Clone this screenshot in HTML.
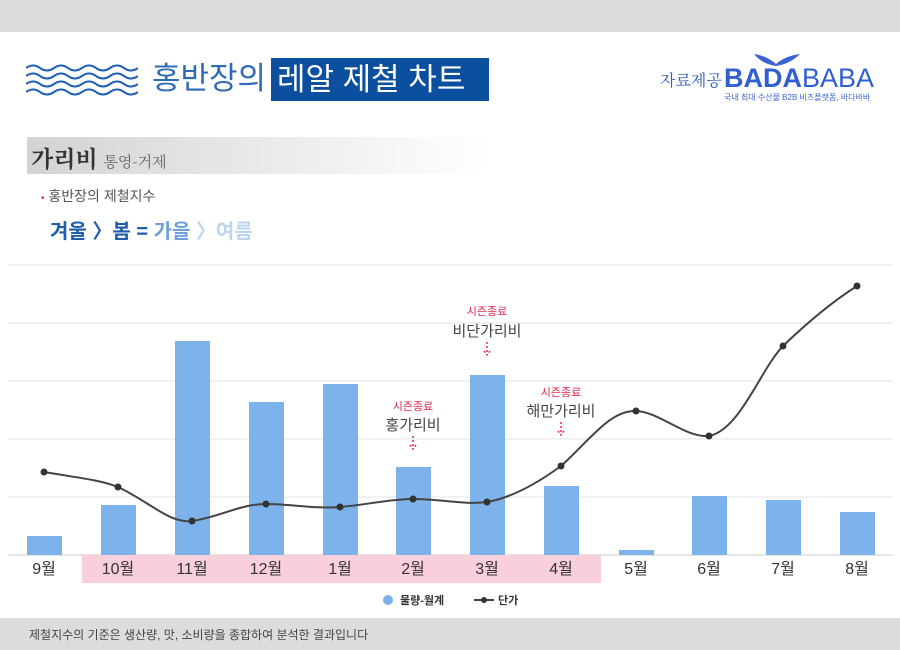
<!DOCTYPE html>
<html><head><meta charset="utf-8"><style>
body{margin:0;width:900px;height:650px;position:relative;background:#fff;font-family:"Liberation Sans","Noto Sans CJK KR",sans-serif;overflow:hidden}
.a{position:absolute;white-space:nowrap}
</style></head><body>
<div class="a" style="left:0;top:0;width:900px;height:32px;background:#dcdcdc"></div>
<svg class="a" style="left:26px;top:64px" width="112" height="32" viewBox="0 0 112 32">
<g fill="none" stroke="#1f5fb4" stroke-width="2">
<path d="M0,4 q7,-5 14,0 t14,0 t14,0 t14,0 t14,0 t14,0 t14,0 t14,0"/>
<path d="M0,12 q7,-5 14,0 t14,0 t14,0 t14,0 t14,0 t14,0 t14,0 t14,0"/>
<path d="M0,20 q7,-5 14,0 t14,0 t14,0 t14,0 t14,0 t14,0 t14,0 t14,0"/>
<path d="M0,28 q7,-5 14,0 t14,0 t14,0 t14,0 t14,0 t14,0 t14,0 t14,0"/>
</g></svg>
<div class="a" style="left:152px;top:58px;font-size:31px;color:#2d6ab8;line-height:42px">홍반장의</div>
<div class="a" style="left:271px;top:58px;width:218px;height:43px;background:#0b4f9e;color:#fff;font-size:31px;line-height:43px;padding-left:6px;box-sizing:border-box">레알 제철 차트</div>
<div class="a" style="left:660px;top:68px;font-size:16px;color:#2f5fb8;font-family:'Noto Serif CJK SC',serif">자료제공</div>
<svg class="a" style="left:752px;top:52px" width="50" height="14"><path d="M2,2 Q15,4 24,12 Q33,4 48,2 Q38,12 24,14 Q10,12 2,2Z" fill="#3d63d0"/></svg>
<div class="a" style="left:724px;top:63px;font-size:27px;color:#2f5fd0;font-weight:bold;letter-spacing:0">BADA<span style="font-weight:normal">BABA</span></div>
<div class="a" style="left:724px;top:92px;font-size:8px;color:#3d63d0">국내 최대 수산물 B2B 비즈플랫폼, 바다바바</div>
<div class="a" style="left:27px;top:137px;width:460px;height:37px;background:linear-gradient(90deg,#d3d3d3,#f2f2f2 70%,#fff)"></div>
<div class="a" style="left:31px;top:141px;font-size:23px;font-weight:bold;color:#333;font-family:'Noto Serif CJK SC',serif">가리비 <span style="font-size:15px;font-weight:normal;color:#666">통영-거제</span></div>
<div class="a" style="left:41px;top:186px;font-size:14px;color:#555"><span style="color:#e0284f;font-size:10px">•</span> 홍반장의 제철지수</div>
<div class="a" style="left:50px;top:215px;font-size:20px;font-weight:bold;color:#1e5eaa">겨울 〉봄 = <span style="color:#6ea1d9">가을</span> <span style="color:#bcd5ee">〉여름</span></div>
<svg class="a" style="left:0;top:250px" width="900" height="370">
<g stroke="#e3e3e3"><line x1="8" x2="893" y1="15" y2="15"/><line x1="8" x2="893" y1="73" y2="73"/><line x1="8" x2="893" y1="131" y2="131"/><line x1="8" x2="893" y1="189" y2="189"/><line x1="8" x2="893" y1="247" y2="247"/></g>
<line x1="8" x2="893" y1="305" y2="305" stroke="#ccc"/>
<rect x="82" y="305" width="519" height="28" fill="#f8cfdb"/>
<g fill="#7db3ea">
<rect x="27" y="286" width="35" height="19"/><rect x="101" y="255" width="35" height="50"/><rect x="175" y="91" width="35" height="214"/><rect x="249" y="152" width="35" height="153"/><rect x="323" y="134" width="35" height="171"/><rect x="396" y="217" width="35" height="88"/><rect x="470" y="125" width="35" height="180"/><rect x="544" y="236" width="35" height="69"/><rect x="619" y="300" width="35" height="5"/><rect x="692" y="246" width="35" height="59"/><rect x="766" y="250" width="35" height="55"/><rect x="840" y="262" width="35" height="43"/>
</g>
<path d="M44,222 C80,228 100,230 118,237 C150,252 170,274 192,271 C220,267 240,254 266,254 C290,254 315,259 340,257 C365,255 390,249 413,249 C440,249 465,255 487,252 C510,248 535,235 561,216 C590,190 610,160 636,161 C660,162 685,188 709,186 C740,180 760,120 783,96 C810,70 835,50 857,36" fill="none" stroke="#444" stroke-width="2"/>
<g fill="#333"><circle cx="44" cy="222" r="3.5"/><circle cx="118" cy="237" r="3.5"/><circle cx="192" cy="271" r="3.5"/><circle cx="266" cy="254" r="3.5"/><circle cx="340" cy="257" r="3.5"/><circle cx="413" cy="249" r="3.5"/><circle cx="487" cy="252" r="3.5"/><circle cx="561" cy="216" r="3.5"/><circle cx="636" cy="161" r="3.5"/><circle cx="709" cy="186" r="3.5"/><circle cx="783" cy="96" r="3.5"/><circle cx="857" cy="36" r="3.5"/></g>
<g font-size="16" fill="#333" text-anchor="middle" font-family="Liberation Sans,Noto Sans CJK KR,sans-serif">
<text x="44" y="324">9월</text><text x="118" y="324">10월</text><text x="192" y="324">11월</text><text x="266" y="324">12월</text><text x="340" y="324">1월</text><text x="413" y="324">2월</text><text x="487" y="324">3월</text><text x="561" y="324">4월</text><text x="636" y="324">5월</text><text x="709" y="324">6월</text><text x="783" y="324">7월</text><text x="857" y="324">8월</text>
</g>
<g text-anchor="middle" font-family="Liberation Sans,Noto Sans CJK KR,sans-serif">
<text x="413" y="160" font-size="11" fill="#e0284f">시즌종료</text><text x="413" y="180" font-size="15" fill="#444">홍가리비</text>
<text x="487" y="65" font-size="11" fill="#e0284f">시즌종료</text><text x="487" y="86" font-size="15" fill="#444">비단가리비</text>
<text x="561" y="146" font-size="11" fill="#e0284f">시즌종료</text><text x="561" y="166" font-size="15" fill="#444">해만가리비</text>
</g>
<g stroke="#e0284f" stroke-width="1.5" stroke-dasharray="2,2" fill="none">
<path d="M413,186 v12 M410,195 l3,4 l3,-4"/><path d="M487,92 v12 M484,101 l3,4 l3,-4"/><path d="M561,172 v12 M558,181 l3,4 l3,-4"/>
</g>
<circle cx="388" cy="350" r="5" fill="#7db3ea"/>
<text x="400" y="354" font-size="11" fill="#333" font-weight="bold">물량-월계</text>
<line x1="474" x2="494" y1="350" y2="350" stroke="#444" stroke-width="2"/><circle cx="484" cy="350" r="3" fill="#333"/>
<text x="498" y="354" font-size="11" fill="#333" font-weight="bold">단가</text>
</svg>
<div class="a" style="left:0;top:618px;width:900px;height:32px;background:#dcdcdc"></div>
<div class="a" style="left:29px;top:626px;font-size:12px;color:#444">제철지수의 기준은 생산량, 맛, 소비량을 종합하여 분석한 결과입니다</div>
</body></html>
